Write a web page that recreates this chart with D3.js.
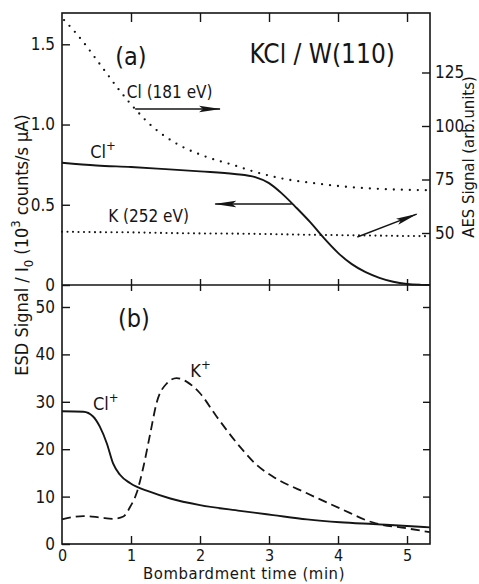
<!DOCTYPE html>
<html>
<head>
<meta charset="utf-8">
<script src="https://cdn.jsdelivr.net/npm/d3@7/dist/d3.min.js"></script>
<style>
  html, body { margin: 0; padding: 0; background: #fff; }
  svg { display: block; }
  text { font-family: "DejaVu Sans Condensed", "DejaVu Sans", sans-serif; font-stretch: condensed; fill: #151515; }
</style>
</head>
<body>
<svg id="chart" width="479" height="584"></svg>
<script>
// ---------- DATA ----------
// Panel (a): AES Cl(181 eV) signal (right axis, arb. units)
const tCl181 = [0.03, 0.2, 0.35, 0.5, 0.65, 0.8, 0.95, 1.1, 1.3, 1.5, 1.75, 2.1, 2.5, 2.75, 3.15, 3.65, 4.15, 4.6, 5.1, 5.33];
const vCl181 = [149.5, 143.5, 137.5, 131, 124.5, 118, 112, 106.5, 100, 95, 90.2, 85.5, 81.6, 79, 75.7, 73.3, 71.5, 70.6, 70.1, 70.0];
// Panel (a): AES K(252 eV) signal (right axis)
const tK252 = [0, 0.5, 1.0, 1.5, 2.0, 2.5, 3.0, 3.5, 4.0, 4.5, 5.0, 5.33];
const vK252 = [50.6, 50.4, 50.3, 50.0, 49.8, 49.7, 49.5, 49.2, 49.0, 48.8, 48.6, 48.5];
// Panel (a): ESD Cl+ signal (left axis, 10^3 counts/s µA)
const tClA = [0, 0.5, 1.0, 1.5, 2.0, 2.5, 2.8, 3.0, 3.2, 3.4, 3.6, 3.8, 4.0, 4.2, 4.4, 4.6, 4.8, 5.0, 5.2, 5.33];
const vClA = [0.762, 0.745, 0.735, 0.722, 0.708, 0.692, 0.672, 0.635, 0.565, 0.48, 0.39, 0.29, 0.20, 0.13, 0.08, 0.045, 0.02, 0.006, 0.001, 0];
// Panel (b): ESD Cl+ signal
const tClB = [0, 0.31, 0.45, 0.55, 0.65, 0.74, 0.84, 0.99, 1.28, 1.57, 2.0, 2.58, 3.06, 3.55, 4.03, 4.51, 5.0, 5.33];
const vClB = [28.0, 27.9, 26.9, 24.7, 21.2, 17.0, 14.6, 12.8, 11.0, 9.6, 8.2, 7.0, 6.1, 5.2, 4.6, 4.2, 3.8, 3.5];
// Panel (b): ESD K+ signal
const tKB = [0, 0.31, 0.55, 0.74, 0.89, 0.99, 1.08, 1.18, 1.28, 1.37, 1.52, 1.66, 1.81, 2.0, 2.24, 2.58, 2.82, 3.06, 3.55, 4.03, 4.51, 5.0, 5.33];
const vKB = [5.2, 5.9, 5.6, 5.3, 5.8, 7.9, 10.7, 16.3, 23.4, 29.7, 33.9, 35.0, 34.2, 31.8, 26.9, 20.5, 16.7, 14.2, 10.7, 7.5, 4.5, 3.3, 2.5];

// tick values
const xTicks = [0, 1, 2, 3, 4, 5];
const yTicksA = [0, 0.5, 1.0, 1.5];
const yTicksRight = [50, 75, 100, 125];
const yTicksB = [0, 10, 20, 30, 40, 50];

// ---------- LAYOUT ----------
const L = 62, R = 430, T = 13, M = 285, B = 544;
const svg = d3.select("#chart");

const x = d3.scaleLinear().domain([0, 5.333]).range([L, R]);
const ya = d3.scaleLinear().domain([0, 1.695]).range([M, T]);
const yaR = d3.scaleLinear().domain([25.7, 152.8]).range([M, T]);
const yb = d3.scaleLinear().domain([0, 54.64]).range([B, M]);

const ink = "#151515";

// frame
svg.append("rect").attr("x", L).attr("y", T).attr("width", R - L).attr("height", B - T)
  .attr("fill", "none").attr("stroke", ink).attr("stroke-width", 1.6);
svg.append("line").attr("x1", L).attr("x2", R).attr("y1", M).attr("y2", M)
  .attr("stroke", ink).attr("stroke-width", 1.6);

function styleAxis(g, fs) {
  g.select(".domain").remove();
  g.selectAll(".tick line").attr("stroke", ink).attr("stroke-width", 1.4);
  g.selectAll(".tick text").attr("font-size", fs).attr("fill", ink)
    .style("font-family", '"DejaVu Sans Condensed", "DejaVu Sans", sans-serif');
}

// top axis (a) - inward ticks
svg.append("g").attr("transform", `translate(0,${T})`)
  .call(d3.axisBottom(x).tickValues([1,2,3,4,5]).tickSize(9).tickFormat(""))
  .call(g => styleAxis(g, 16));
// middle line ticks crossing
svg.append("g").attr("transform", `translate(0,${M})`)
  .call(d3.axisTop(x).tickValues([1,2,3,4,5]).tickSize(6).tickFormat(""))
  .call(g => styleAxis(g, 16));
svg.append("g").attr("transform", `translate(0,${M})`)
  .call(d3.axisBottom(x).tickValues([1,2,3,4,5]).tickSize(6).tickFormat(""))
  .call(g => styleAxis(g, 16));
// bottom axis
svg.append("g").attr("transform", `translate(0,${B})`)
  .call(d3.axisBottom(x).tickValues(xTicks).tickSize(-8).tickPadding(6).tickFormat(d3.format("d")))
  .call(g => styleAxis(g, 16))
  .call(g => g.selectAll(".tick").filter(d => d === 0).select("line").remove());

// left axis (a)
svg.append("g").attr("transform", `translate(${L},0)`)
  .call(d3.axisLeft(ya).tickValues(yTicksA).tickSize(-8).tickPadding(7)
    .tickFormat(d => d === 0 ? "0" : d3.format(".1f")(d)))
  .call(g => styleAxis(g, 17));
// right axis (a)
svg.append("g").attr("transform", `translate(${R},0)`)
  .call(d3.axisRight(yaR).tickValues(yTicksRight).tickSize(-8).tickPadding(5).tickFormat(d3.format("d")))
  .call(g => styleAxis(g, 17));
// left axis (b)
svg.append("g").attr("transform", `translate(${L},0)`)
  .call(d3.axisLeft(yb).tickValues(yTicksB).tickSize(-8).tickPadding(7).tickFormat(d3.format("d")))
  .call(g => styleAxis(g, 17));
// right axis (b)
svg.append("g").attr("transform", `translate(${R},0)`)
  .call(d3.axisRight(yb).tickValues(yTicksB.slice(1)).tickSize(-7).tickFormat(""))
  .call(g => styleAxis(g, 17));

// ---------- CURVES ----------
const mk = (xs, ys, ysc) => xs.map((t, i) => [x(t), ysc(ys[i])]);
const line = d3.line().curve(d3.curveMonotoneX);

svg.append("path").attr("d", line(mk(tCl181, vCl181, yaR)))
  .attr("fill", "none").attr("stroke", ink).attr("stroke-width", 2.3)
  .attr("stroke-linecap", "round").attr("stroke-dasharray", "0 8");
svg.append("path").attr("d", line(mk(tK252, vK252, yaR)))
  .attr("fill", "none").attr("stroke", ink).attr("stroke-width", 2.1)
  .attr("stroke-linecap", "round").attr("stroke-dasharray", "0 5.5");
svg.append("path").attr("d", line(mk(tClA, vClA, ya)))
  .attr("fill", "none").attr("stroke", ink).attr("stroke-width", 1.9);
svg.append("path").attr("d", line(mk(tClB, vClB, yb)))
  .attr("fill", "none").attr("stroke", ink).attr("stroke-width", 1.9);
svg.append("path").attr("d", line(mk(tKB, vKB, yb)))
  .attr("fill", "none").attr("stroke", ink).attr("stroke-width", 1.8)
  .attr("stroke-dasharray", "9 5");

// ---------- ARROWS ----------
const defs = svg.append("defs");
defs.append("marker").attr("id", "ah").attr("viewBox", "0 -4 22 8")
  .attr("refX", 21).attr("refY", 0).attr("markerWidth", 22).attr("markerHeight", 8)
  .attr("markerUnits", "userSpaceOnUse").attr("orient", "auto")
  .append("path").attr("d", "M0,-3.2 L22,0 L0,3.2 L4,0 Z").attr("fill", ink);

const arrows = [
  { t0: 1.06, v0: 1.097, t1: 2.29, v1: 1.097 },
  { t0: 3.33, v0: 0.505, t1: 2.22, v1: 0.505 },
  { t0: 4.28, v0: 0.299, t1: 5.14, v1: 0.442 }
];
arrows.forEach(a => {
  svg.append("line").attr("x1", x(a.t0)).attr("y1", ya(a.v0)).attr("x2", x(a.t1)).attr("y2", ya(a.v1))
    .attr("stroke", ink).attr("stroke-width", 1.4).attr("marker-end", "url(#ah)");
});

// ---------- LABELS ----------
function label(t, y, txt, fs, anchor) {
  return svg.append("text").attr("x", x(t)).attr("y", y).attr("font-size", fs)
    .attr("text-anchor", anchor || "start").text(txt);
}
label(0.77, ya(1.371), "(a)", 25);
label(3.77, ya(1.383), "KCl / W(110)", 26, "middle");
label(0.94, ya(1.165), "Cl (181 eV)", 17);
label(0.67, ya(0.393), "K (252 eV)", 17);
label(0.81, yb(45.8), "(b)", 25);

function ion(t, y, base) {
  const tx = svg.append("text").attr("x", x(t)).attr("y", y).attr("font-size", 18);
  tx.append("tspan").text(base);
  tx.append("tspan").attr("dy", -8).attr("font-size", 13).text("+");
}
ion(0.41, ya(0.791), "Cl");
ion(0.45, yb(28.3), "Cl");
ion(1.86, yb(35.2), "K");

// axis titles
svg.append("text").attr("x", (L + R) / 2 - 2).attr("y", 579).attr("text-anchor", "middle")
  .attr("font-size", 16.5).attr("letter-spacing", 0.6).text("Bombardment time (min)");

const yt = svg.append("text").attr("transform", "translate(28,245) rotate(-90)")
  .attr("text-anchor", "middle").attr("font-size", 18);
yt.append("tspan").text("ESD Signal / I");
yt.append("tspan").attr("dy", 5).attr("font-size", 13).text("0");
yt.append("tspan").attr("dy", -5).text(" (10");
yt.append("tspan").attr("dy", -8).attr("font-size", 13).text("3");
yt.append("tspan").attr("dy", 8).text(" counts/s μA)");

svg.append("text").attr("transform", "translate(474,157) rotate(-90)")
  .attr("text-anchor", "middle").attr("font-size", 16.5).text("AES Signal (arb.units)");
</script>
</body>
</html>
